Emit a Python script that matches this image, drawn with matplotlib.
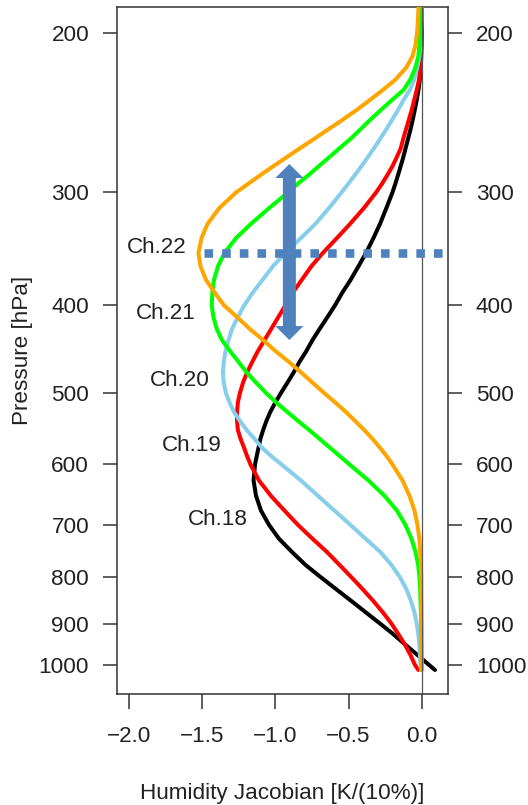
import matplotlib
matplotlib.use("Agg")
import matplotlib.pyplot as plt
from matplotlib.ticker import NullLocator, FixedLocator, FixedFormatter

# ---------------- data ----------------
pressure = [187, 193, 200, 206, 212, 218, 225, 231, 237, 243, 250, 256, 262, 268, 275,
            281, 287, 293, 300, 312, 325, 337, 350, 362, 375, 387, 400, 412, 425, 437,
            450, 462, 475, 487, 500, 512, 525, 537, 550, 562, 575, 587, 600, 625, 650,
            675, 700, 725, 750, 775, 800, 825, 850, 875, 900, 925, 950, 975, 1000, 1013]

ch18 = [0.0, 0.0, 0.0, -0.001, -0.003, -0.006, -0.013, -0.022, -0.034, -0.047,
        -0.063, -0.078, -0.094, -0.110, -0.128, -0.145, -0.162, -0.179, -0.200,
        -0.241, -0.285, -0.330, -0.381, -0.432, -0.487, -0.542, -0.593,
        -0.644, -0.699, -0.747, -0.791, -0.836, -0.877, -0.918, -0.962,
        -1.000, -1.036, -1.062, -1.085, -1.103, -1.116, -1.128, -1.140,
        -1.150, -1.133, -1.099, -1.044,
        -0.976, -0.887, -0.795, -0.689, -0.583, -0.480, -0.381, -0.285, -0.193,
        -0.111, -0.029, 0.050, 0.091]
ch19 = [0.0, 0.0, -0.001, -0.002, -0.005, -0.009, -0.018, -0.034, -0.051, -0.068,
        -0.090, -0.109, -0.127, -0.143, -0.174, -0.202, -0.235, -0.269, -0.312,
        -0.394, -0.490, -0.580, -0.676, -0.754, -0.821, -0.881, -0.932,
        -0.980, -1.030, -1.075, -1.122, -1.159, -1.195, -1.222, -1.243,
        -1.257, -1.263, -1.263, -1.257, -1.239, -1.215, -1.195, -1.171,
        -1.113, -1.031, -0.938, -0.846,
        -0.747, -0.648, -0.562, -0.480, -0.402, -0.330, -0.265, -0.207, -0.159,
        -0.114, -0.077, -0.046, -0.023]
ch20 = [-0.001, -0.002, -0.005, -0.008, -0.016, -0.030, -0.051, -0.080, -0.124, -0.161,
        -0.207, -0.246, -0.286, -0.326, -0.374, -0.415, -0.457, -0.499, -0.548,
        -0.633, -0.727, -0.826, -0.932, -1.017, -1.089, -1.154, -1.214,
        -1.257, -1.298, -1.321, -1.342, -1.354, -1.359, -1.354, -1.339,
        -1.315, -1.284, -1.243, -1.195, -1.144, -1.092, -1.031, -0.959,
        -0.826, -0.709, -0.596, -0.487,
        -0.384, -0.282, -0.207, -0.148, -0.104, -0.073, -0.049, -0.034, -0.023,
        -0.016, -0.012, -0.008, -0.005]
ch21 = [-0.010, -0.010, -0.012, -0.015, -0.023, -0.042, -0.077, -0.124, -0.203, -0.278,
        -0.360, -0.425, -0.490, -0.562, -0.641, -0.709, -0.774, -0.843, -0.914,
        -1.042, -1.168, -1.270, -1.349, -1.393, -1.421, -1.432, -1.436,
        -1.425, -1.401, -1.366, -1.308, -1.253, -1.195, -1.133, -1.065,
        -0.997, -0.918, -0.846, -0.767, -0.699, -0.627, -0.562, -0.494,
        -0.364, -0.254, -0.169, -0.111,
        -0.070, -0.042, -0.024, -0.015, -0.010, -0.008, -0.005, -0.004, -0.003,
        -0.002, -0.001, -0.001, 0.0]
ch22 = [-0.022, -0.025, -0.032, -0.042, -0.063, -0.104, -0.179, -0.265, -0.354, -0.443,
        -0.552, -0.648, -0.740, -0.832, -0.935, -1.021, -1.103, -1.181, -1.270,
        -1.383, -1.465, -1.506, -1.527, -1.513, -1.475, -1.417, -1.352,
        -1.264, -1.174, -1.085, -0.996, -0.908, -0.822, -0.747, -0.668,
        -0.593, -0.518, -0.456, -0.391, -0.337, -0.285, -0.241, -0.200,
        -0.131, -0.083, -0.049, -0.029,
        -0.016, -0.010, -0.005, -0.003, -0.003, -0.002, -0.001, -0.001, -0.001,
        -0.001, -0.001, 0.0, 0.0]

channel_names = ["Ch.18", "Ch.19", "Ch.20", "Ch.21", "Ch.22"]
channel_colors = ["#000000", "#FF0000", "#87CEEB", "#00FF00", "#FFA500"]
label_x = [-1.188, -1.366, -1.448, -1.546, -1.605]
label_p = [700, 580, 491, 414, 350]

x_ticks = [-2.0, -1.5, -1.0, -0.5, 0.0]
y_ticks = [200, 300, 400, 500, 600, 700, 800, 900, 1000]
y_tick_labels = ["200", "300", "400", "500", "600", "700", "800", "900", "1000"]
x_limits = (-2.084, 0.18)
p_limits = (1077, 187)

peak_level = 350
peak_x_range = (-1.49, 0.18)
arrow_x = -0.905
arrow_p = (279, 437)
marker_blue = "#4F81BD"

xlabel = "Humidity Jacobian [K/(10%)]"
ylabel = "Pressure [hPa]"

# ---------------- figure ----------------
plt.rcParams["font.family"] = ["Liberation Sans", "DejaVu Sans"]
FS = 16.2
TXT = "#222222"

fig = plt.figure(figsize=(5.28, 8.05), dpi=100)
ax = fig.add_axes([117 / 528, 111 / 805, 331 / 528, 687 / 805])

series = [ch18, ch19, ch20, ch21, ch22]
for vals, col in zip(series, channel_colors):
    ax.plot(vals, pressure, color=col, lw=2.9, solid_capstyle="round",
            solid_joinstyle="round", zorder=3)

ax.axvline(0.0, color="#555555", lw=0.9, zorder=4)

for name, lx, lp in zip(channel_names, label_x, label_p):
    ax.text(lx, lp, name, ha="right", va="baseline", fontsize=FS, color=TXT, zorder=5)

# dotted peak line
ax.plot(peak_x_range, [peak_level, peak_level], color=marker_blue, lw=6.2,
        linestyle=(0, (1.0, 1.05)), dash_capstyle="butt", zorder=6)

# double headed arrow
p_mid = (arrow_p[0] * arrow_p[1]) ** 0.5
for tip in arrow_p:
    ax.annotate("", xy=(arrow_x, tip), xytext=(arrow_x, p_mid),
                arrowprops=dict(arrowstyle="simple,head_length=1.4,head_width=2.8,tail_width=1.3",
                                mutation_scale=7.2, color=marker_blue, lw=0,
                                shrinkA=0, shrinkB=0),
                zorder=7)

ax.set_yscale("log")
ax.set_ylim(*p_limits)
ax.set_xlim(*x_limits)
ax.yaxis.set_major_locator(FixedLocator(y_ticks))
ax.yaxis.set_major_formatter(FixedFormatter(y_tick_labels))
ax.yaxis.set_minor_locator(NullLocator())
ax.set_xticks(x_ticks)

ax.tick_params(axis="y", which="both", left=True, right=True, labelleft=True,
               labelright=True, length=10, width=1.1, pad=10, labelsize=FS,
               color="#333333", labelcolor=TXT)
ax.tick_params(axis="x", length=11, width=1.1, pad=12, labelsize=FS,
               color="#333333", labelcolor=TXT)
for s in ax.spines.values():
    s.set_color("#333333")
    s.set_linewidth(1.1)

ax.set_xlabel(xlabel, fontsize=FS, color=TXT)
ax.xaxis.set_label_coords(0.5, -0.13)
ax.set_ylabel(ylabel, fontsize=FS, color=TXT)
ax.yaxis.set_label_coords(-0.255, 0.5)

fig.savefig("out.png", dpi=100)
